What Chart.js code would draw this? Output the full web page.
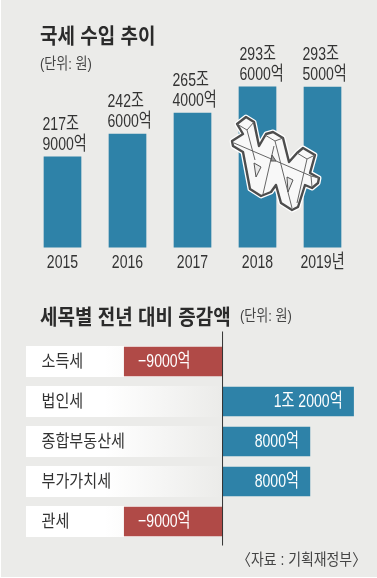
<!DOCTYPE html>
<html lang="ko">
<head>
<meta charset="utf-8">
<script src="https://cdn.jsdelivr.net/npm/chart.js@4/dist/chart.umd.min.js"></script>
<style>
    html, body { margin: 0; padding: 0; background: #fff; }
    #page { position: relative; width: 376px; height: 577px; margin-left: 1px; background: #ebebe9; overflow: hidden;
            font-family: "Liberation Sans", "Noto Sans CJK KR", sans-serif; color: #333; }
    canvas { position: absolute; left: -1px; }
    #trendChart { top: 0; }
    #changeChart { top: 290px; }
    .note { position: absolute; white-space: nowrap; transform-origin: left center; line-height: 20px; }
    .title { font-size: 21px; font-weight: bold; transform: scaleX(0.905); color: #2b2b2b; }
    .unit { font-size: 15.5px; transform: scaleX(0.84); color: #444; }
    #won { position: absolute; left: -1px; top: 0; }
</style>
</head>
<body>
<div id="page">
    <canvas id="trendChart" width="377" height="290"></canvas>
    <canvas id="changeChart" width="377" height="288"></canvas>
    <div class="note title" style="left:39px;top:26px">국세 수입 추이</div>
    <div class="note unit" style="left:39px;top:54px">(단위: 원)</div>
    <div class="note title" style="left:39px;top:307px">세목별 전년 대비 증감액</div>
    <div class="note unit" style="left:239px;top:306px">(단위: 원)</div>
    <div class="note unit" style="left:236px;top:550px;font-size:16px;transform:scaleX(0.87)">〈자료 : 기획재정부〉</div>
    <!-- decorative won sign -->
    <svg id="won" width="377" height="290">
        <g stroke-linejoin="round">
            <polygon fill="none" stroke="#ffffff" stroke-width="5"
                points="237,124 246,117 254,122 259,146 266,134 273,132 283,138 289,162 297,153 303,148 315,155 310,173 319,178 318,183 312,188 305,185 298,207 292,210 281,203 276,185 271,192 261,196 250,189 243,152 233,146 232,141 243,134"/>
            <polygon fill="#f8f8f8" stroke="#4d4d4d" stroke-width="2.4"
                points="237,124 246,117 254,122 259,146 266,134 273,132 283,138 289,162 297,153 303,148 315,155 310,173 319,178 318,183 312,188 305,185 298,207 292,210 281,203 276,185 271,192 261,196 250,189 243,152 233,146 232,141 243,134"/>
        </g>
        <g fill="none" stroke="#666" stroke-width="1">
            <polyline points="237,124 247,130 254,122"/>
            <polyline points="265,135 275,141 283,138"/>
            <polyline points="297,153 307,159 315,155"/>
            <line x1="247" y1="130" x2="255" y2="160"/>
            <line x1="275" y1="141" x2="292" y2="208"/>
            <line x1="307" y1="159" x2="297" y2="203"/>
            <line x1="234" y1="143" x2="311" y2="176"/>
            <polyline points="311,176 312,187"/>
            <polyline points="311,176 319,178"/>
            <line x1="263" y1="194" x2="274" y2="146"/>
        </g>
        <polygon points="254,163 261,167 256,177" fill="#e8e8e8" stroke="#555"/>
        <polygon points="287,177 293,180 288,192" fill="#e8e8e8" stroke="#555"/>
        <polygon points="272,155 276,161 271,161" fill="#999" stroke="#555"/>
    </svg>
</div>

<script>
// Yearly revenue, in 조 won
const years = ['2015', '2016', '2017', '2018', '2019년'];
const revenue = [217.9, 242.6, 265.4, 293.6, 293.5];
const revenueTrillion = ['217조', '242조', '265조', '293조', '293조'];
const revenueBillion = ['9000억', '6000억', '4000억', '6000억', '5000억'];

// Change by tax item, in 조 won
const taxNames = ['소득세', '법인세', '종합부동산세', '부가가치세', '관세'];
const taxChanges = [-0.9, 1.2, 0.8, 0.8, -0.9];
const taxChangeLabels = ['−9000억', '1조 2000억', '8000억', '8000억', '−9000억'];

const BLUE = '#2e82a8';
const RED = '#b04a47';
const FONT_STACK = '"Liberation Sans", "Noto Sans CJK KR", sans-serif';

// The reference type is condensed, so squeeze the text horizontally
function drawText(ctx, text, x, y, size, color, align = 'left', squeeze = 0.74) {
    ctx.save();
    ctx.font = `${size}px ${FONT_STACK}`;
    ctx.fillStyle = color;
    ctx.textAlign = align;
    ctx.textBaseline = 'middle';
    ctx.translate(x, y + 1.5);
    ctx.scale(squeeze, 1);
    ctx.fillText(text, 0, 0);
    ctx.restore();
}

const trendLabels = {
    id: 'trendLabels',
    afterDatasetsDraw(chart) {
        const ctx = chart.ctx;
        chart.getDatasetMeta(0).data.forEach((bar, i) => {
            const left = bar.x - 20 + (i === 3 ? 2 : 0);
            drawText(ctx, revenueTrillion[i], left, bar.y - 34, 19, '#333');
            drawText(ctx, revenueBillion[i], left, bar.y - 14, 19, '#333');
            drawText(ctx, years[i], bar.x, chart.chartArea.bottom + 14, 19, '#333', 'center');
        });
    }
};

new Chart(document.getElementById('trendChart'), {
    type: 'bar',
    data: {
        labels: years,
        datasets: [{ data: revenue, backgroundColor: BLUE, barThickness: 37 }]
    },
    options: {
        responsive: false,
        animation: false,
        layout: { padding: { left: 30, right: 22, top: 62.5, bottom: 42.5 } },
        plugins: { legend: { display: false }, tooltip: { enabled: false } },
        scales: {
            x: { display: false },
            y: { display: false, min: 120, max: 320 }
        }
    },
    plugins: [trendLabels]
});

const changeRows = {
    id: 'changeRows',
    // white label strips behind the bars, fading toward the axis
    beforeDatasetsDraw(chart) {
        const { ctx, chartArea, scales } = chart;
        const zero = scales.x.getPixelForValue(0);
        const gradient = ctx.createLinearGradient(chartArea.left, 0, zero, 0);
        gradient.addColorStop(0, '#ffffff');
        gradient.addColorStop(0.4, '#ffffff');
        gradient.addColorStop(1, '#ebebe9');
        ctx.fillStyle = gradient;
        taxNames.forEach((name, i) => {
            ctx.fillRect(chartArea.left, scales.y.getPixelForValue(i) - 15.5, zero - chartArea.left, 31);
        });
    },
    afterDatasetsDraw(chart) {
        const { ctx, chartArea, scales } = chart;
        const zero = scales.x.getPixelForValue(0);
        ctx.strokeStyle = '#333';
        ctx.lineWidth = 1;
        ctx.beginPath();
        ctx.moveTo(zero, chartArea.top - 10);
        ctx.lineTo(zero, chartArea.bottom + 4);
        ctx.stroke();
        chart.getDatasetMeta(0).data.forEach((bar, i) => {
            drawText(ctx, taxNames[i], chartArea.left + 15.5, bar.y - 1, 17, '#333', 'left', 0.89);
            const right = taxChanges[i] < 0 ? zero - 32 : bar.x - 11;
            drawText(ctx, taxChangeLabels[i], right, bar.y - 1, 19, '#fff', 'right');
        });
    }
};

new Chart(document.getElementById('changeChart'), {
    type: 'bar',
    data: {
        labels: taxNames,
        datasets: [{
            data: taxChanges,
            backgroundColor: taxChanges.map(v => v < 0 ? RED : BLUE),
            barThickness: 29
        }]
    },
    options: {
        indexAxis: 'y',
        responsive: false,
        animation: false,
        layout: { padding: { left: 26, right: 1.6, top: 51.5, bottom: 36.5 } },
        plugins: { legend: { display: false }, tooltip: { enabled: false } },
        scales: {
            x: { display: false, min: -1.8, max: 1.4 },
            y: { display: false }
        }
    },
    plugins: [changeRows]
});
</script>
</body>
</html>
